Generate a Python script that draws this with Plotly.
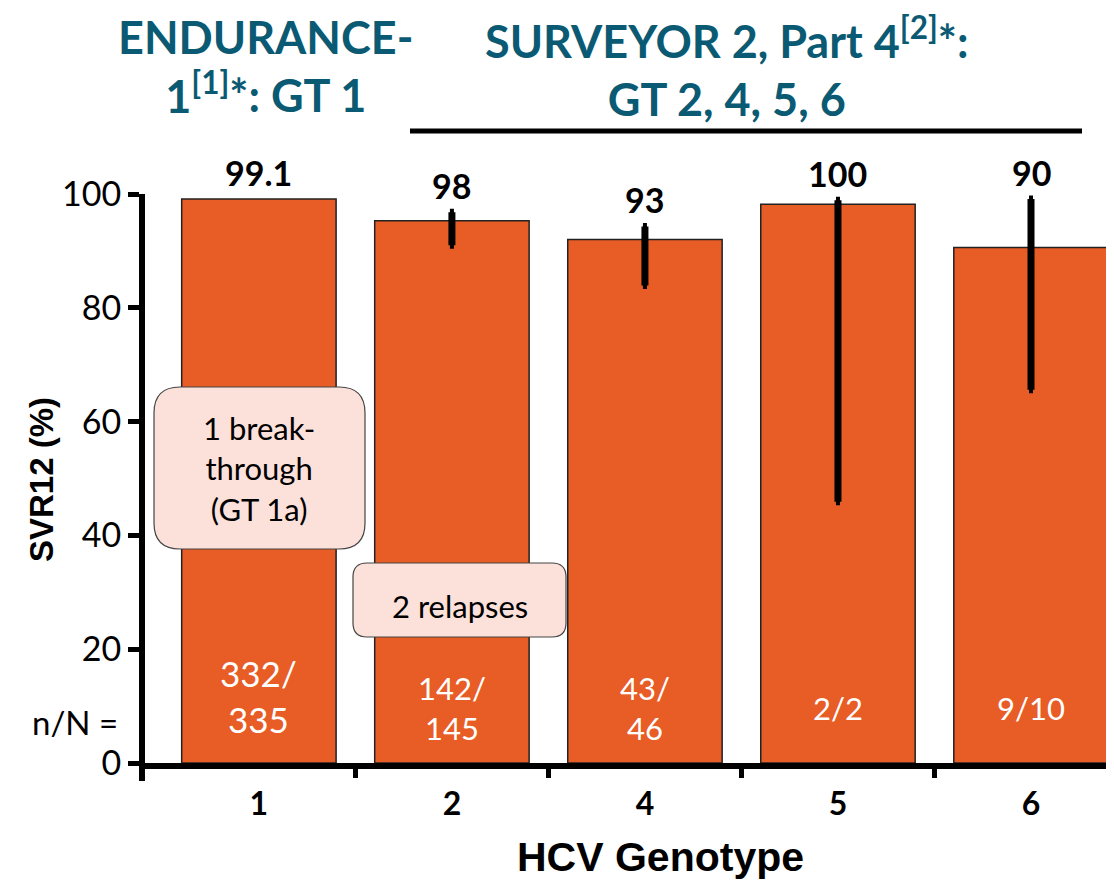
import plotly.graph_objects as go

# ---------------- data ----------------
genotypes = ["1", "2", "4", "5", "6"]
svr_bar = [99.1, 95.3, 92.0, 98.2, 90.6]          # bar heights (%)
svr_labels = ["99.1", "98", "93", "100", "90"]     # printed values
ci_genotypes = ["2", "4", "5", "6"]               # genotypes with a 95% CI
ci_upper = [96.8, 94.3, 98.9, 99.1]
ci_lower = [91.0, 83.9, 45.9, 65.6]
n_over_N = ["332/<br>335", "142/<br>145", "43/<br>46", "2/2", "9/10"]
y_ticks = [0, 20, 40, 60, 80, 100]

# ---------------- styles ----------------
OFF = 8                      # page body margin of the html page
W, H = 1114 - OFF, 882 - OFF
L, R, T, B = 137, 0, 186, 119
BAR = "#E85C25"
TEAL = "#0B5A73"
BOXFILL = "#FBE1DA"
FONT = "Lato"
plot_w = W - L - R
plot_h = H - T - B


def px2paper(px, py):
    # screenshot pixel -> paper coordinates
    return (px - OFF - L) / plot_w, (H - B - (py - OFF)) / plot_h


def rounded_box(x0, y0, x1, y1, r):
    def P(x, y):
        a, b = px2paper(x, y)
        return f"{a:.5f},{b:.5f}"
    return (f"M {P(x0 + r, y0)} L {P(x1 - r, y0)} Q {P(x1, y0)} {P(x1, y0 + r)} "
            f"L {P(x1, y1 - r)} Q {P(x1, y1)} {P(x1 - r, y1)} "
            f"L {P(x0 + r, y1)} Q {P(x0, y1)} {P(x0, y1 - r)} "
            f"L {P(x0, y0 + r)} Q {P(x0, y0)} {P(x0 + r, y0)} Z")


ci_mid = [svr_bar[genotypes.index(g)] for g in ci_genotypes]
err_plus = [u - v for u, v in zip(ci_upper, ci_mid)]
err_minus = [v - l for l, v in zip(ci_lower, ci_mid)]

fig = go.Figure()
fig.add_trace(go.Bar(
    x=genotypes, y=svr_bar, width=0.8,
    marker=dict(color=BAR, line=dict(color="#222222", width=1.5)),
    showlegend=False, hoverinfo="skip",
))
fig.add_trace(go.Scatter(
    x=ci_genotypes, y=ci_mid, mode="markers", marker=dict(size=0.1, opacity=0),
    error_y=dict(type="data", symmetric=False, array=err_plus, arrayminus=err_minus,
                 color="black", thickness=7, width=2),
    showlegend=False, hoverinfo="skip",
))
# helper axis for the boundary ticks
fig.add_trace(go.Scatter(x=[], y=[], xaxis="x2", showlegend=False))

xr = [-0.59, 4.43]

annotations = []
# value labels above bars
for i, (g, v, lab) in enumerate(zip(genotypes, svr_bar, svr_labels)):
    top = max(v, ci_upper[ci_genotypes.index(g)]) if g in ci_genotypes else v
    annotations.append(dict(x=i, y=top, xref="x", yref="y", text=f"<b>{lab}</b>",
                            showarrow=False, xanchor="center", yanchor="bottom", yshift=4,
                            font=dict(family=FONT, size=34, color="black")))
# n/N labels inside bars
for i, t in enumerate(n_over_N):
    annotations.append(dict(x=i, y=11.8 if i == 0 else 9.6, xref="x", yref="y", text=t,
                            showarrow=False, xanchor="center", yanchor="middle",
                            font=dict(family=FONT, size=35 if i == 0 else 31, color="white")))

ax, ay = px2paper(75, 722)
annotations.append(dict(x=ax, y=ay, xref="paper", yref="paper", text="n/N =",
                        showarrow=False, xanchor="center", yanchor="middle",
                        font=dict(family=FONT, size=33, color="black")))

# callout texts
cx, cy = px2paper(259, 468)
annotations.append(dict(x=cx, y=cy, xref="paper", yref="paper",
                        text="1 break-<br>through<br>(GT 1a)", showarrow=False,
                        xanchor="center", yanchor="middle",
                        font=dict(family=FONT, size=31, color="black")))
cx, cy = px2paper(460, 606)
annotations.append(dict(x=cx, y=cy, xref="paper", yref="paper",
                        text="2 relapses", showarrow=False,
                        xanchor="center", yanchor="middle",
                        font=dict(family=FONT, size=31, color="black")))

# study titles
tx, ty = px2paper(265, 67)
annotations.append(dict(x=tx, y=ty, xref="paper", yref="paper",
                        text="<b>ENDURANCE-<br>1<sup>[1]</sup>*: GT 1</b>", showarrow=False,
                        xanchor="center", yanchor="middle",
                        font=dict(family=FONT, size=45, color=TEAL)))
tx, ty = px2paper(727, 67)
annotations.append(dict(x=tx, y=ty, xref="paper", yref="paper",
                        text="<b>SURVEYOR 2, Part 4<sup>[2]</sup>*:<br>GT 2, 4, 5, 6</b>",
                        showarrow=False, xanchor="center", yanchor="middle",
                        font=dict(family=FONT, size=45, color=TEAL)))

# axis titles
tx, ty = px2paper(42, 480)
annotations.append(dict(x=tx, y=ty, xref="paper", yref="paper", text="<b>SVR12 (%)</b>",
                        textangle=-90, showarrow=False, xanchor="center", yanchor="middle",
                        font=dict(family="Liberation Sans", size=33, color="black")))
tx, ty = px2paper(660, 857)
annotations.append(dict(x=tx, y=ty, xref="paper", yref="paper", text="<b>HCV Genotype</b>",
                        showarrow=False, xanchor="center", yanchor="middle",
                        font=dict(family="Liberation Sans", size=41, color="black")))

shapes = []
b1 = rounded_box(154, 387, 365, 549, 26)
b2 = rounded_box(353, 563, 566, 637, 14)
for p in (b1, b2):
    shapes.append(dict(type="path", path=p, xref="paper", yref="paper",
                       fillcolor=BOXFILL, line=dict(color="#444444", width=1.2), layer="above"))
lx0, ly = px2paper(410, 131)
lx1, _ = px2paper(1082, 131)
shapes.append(dict(type="line", xref="paper", yref="paper", x0=lx0, x1=lx1, y0=ly, y1=ly,
                   line=dict(color="black", width=5)))
# y-axis stub below the x axis
sx, sy0 = px2paper(142, 763)
_, sy1 = px2paper(142, 781)
shapes.append(dict(type="line", xref="paper", yref="paper", x0=sx, x1=sx, y0=sy0, y1=sy1,
                   line=dict(color="black", width=6)))

fig.update_layout(
    width=W, height=H,
    margin=dict(l=L, r=R, t=T, b=B, pad=0, autoexpand=False),
    plot_bgcolor="white", paper_bgcolor="white",
    xaxis=dict(type="category", range=xr, showgrid=False, zeroline=False, automargin=False,
               showline=True, linecolor="black", linewidth=6,
               ticks="", ticklabelstandoff=8,
               tickfont=dict(family=FONT, size=32, color="black"),
               tickprefix="<b>", ticksuffix="</b>"),
    xaxis2=dict(overlaying="x", anchor="y", side="bottom", range=xr, automargin=False,
                showgrid=False, zeroline=False, showline=False,
                tickmode="array", tickvals=[0.5, 1.5, 2.5, 3.5],
                ticks="outside", ticklen=14, tickwidth=5, tickcolor="black",
                showticklabels=False),
    yaxis=dict(range=[0, 100], tickmode="array", tickvals=y_ticks, automargin=False,
               showgrid=False, zeroline=False, showline=True, linecolor="black",
               linewidth=6, ticks="outside", ticklen=11, tickwidth=5, tickcolor="black",
               tickfont=dict(family=FONT, size=34, color="black")),
    annotations=annotations,
    shapes=shapes,
)

fig.write_html("out.html")
